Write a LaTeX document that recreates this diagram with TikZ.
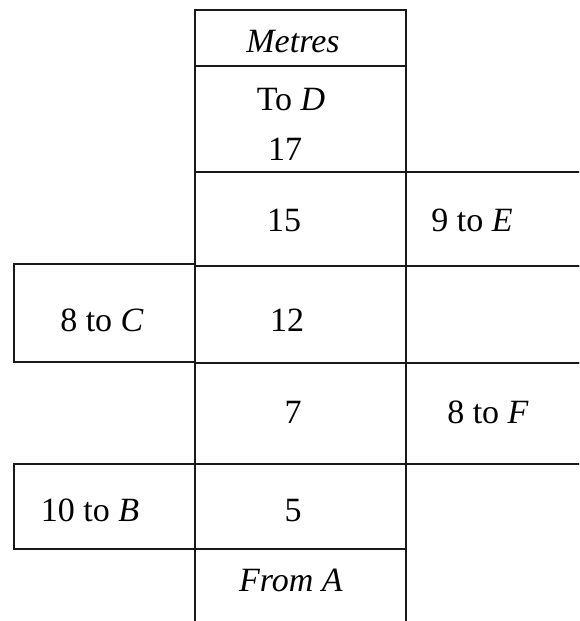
\documentclass[tikz,border=0pt]{standalone}
\usepackage{fontspec}
\setmainfont{Liberation Serif}
\begin{document}
\begin{tikzpicture}[x=1pt,y=-1pt,
  cell/.style={draw=black!90,line width=2.6pt},
  lbl/.style={inner sep=0pt,font=\fontsize{34}{40}\selectfont,anchor=base}]
\useasboundingbox (0,0) rectangle (579,621);
\clip (0,0) rectangle (579,621);
% centre column
\draw[cell] (195,10) rectangle (406,66);
\draw[cell] (195,66) rectangle (406,172);
\draw[cell] (195,172) rectangle (406,266);
\draw[cell] (195,266) rectangle (406,363);
\draw[cell] (195,363) rectangle (406,464);
\draw[cell] (195,464) rectangle (406,549);
\draw[cell] (195,549) rectangle (406,640);
% left boxes
\draw[cell] (14,264) rectangle (195,362);
\draw[cell] (14,464) rectangle (195,549);
% right boxes
\draw[cell] (406,172) rectangle (600,266);
\draw[cell] (406,266) rectangle (600,363);
\draw[cell] (406,363) rectangle (600,464);
% labels
\node[lbl] (metres) at (293,52) {\itshape Metres};
\node[lbl] (tod) at (291,110) {To \textit{D}};
\node[lbl] (n17) at (285,160) {17};
\node[lbl] (n15) at (284,231) {15};
\node[lbl] (n12) at (287,331) {12};
\node[lbl] (n7) at (293,423) {7};
\node[lbl] (n5) at (293,521) {5};
\node[lbl] (froma) at (291,591) {\itshape From A};
\node[lbl] (toc) at (102,331) {8 to \textit{C}};
\node[lbl] (tob) at (90,521) {10 to \textit{B}};
\node[lbl] (toe) at (472,231) {9 to \textit{E}};
\node[lbl] (tof) at (488,423) {8 to \textit{F}};
\end{tikzpicture}
\end{document}
